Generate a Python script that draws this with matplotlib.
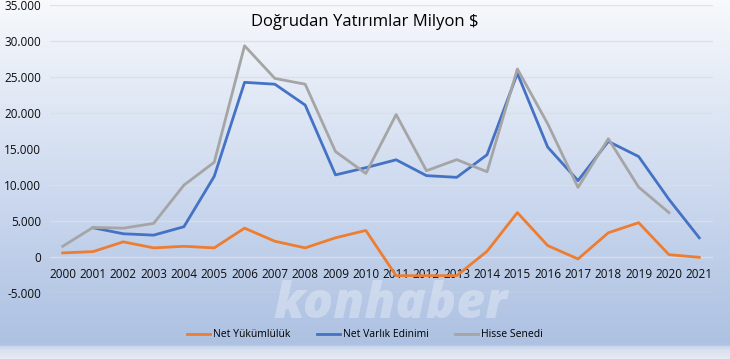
import numpy as np
import matplotlib.pyplot as plt
from matplotlib.ticker import FuncFormatter
from matplotlib.colors import LinearSegmentedColormap

years = list(range(2000, 2022))
net_yukumluluk = [560, 740, 2100, 1260, 1480, 1260, 4000, 2180, 1260, 2660, 3680,
                  -2600, -2600, -2600, 790, 6160, 1580, -280, 3360, 4760, 320, -50]
net_varlik = [None, 4060, 3220, 3030, 4200, 11200, 24260, 24000, 21100, 11400, 12400,
              13500, 11300, 11060, 14200, 25500, 15260, 10600, 16050, 13950, 8000, 2660]
hisse_senedi = [1480, 4100, 4000, 4660, 9980, 13160, 29340, 24800, 24000, 14640, 11600,
                19780, 11980, 13520, 11840, 26120, 18500, 9660, 16420, 9700, 6160, None]

plt.rcParams['font.family'] = ['Open Sans', 'DejaVu Sans']

fig = plt.figure(figsize=(7.3, 3.59), dpi=100)

# background gradient
bg = fig.add_axes([0, 0, 1, 1], zorder=-10)
cmap = LinearSegmentedColormap.from_list(
    'bg', [(0, '#f7f9fc'), (0.45, '#d3def1'), (0.96, '#adc1e2'), (0.975, '#d6e0f0'), (1, '#e4eaf4')])
grad = np.linspace(0, 1, 359).reshape(-1, 1)
bg.imshow(grad, aspect='auto', cmap=cmap, extent=[0, 1, 0, 1], origin='upper')
bg.axis('off')

ax = fig.add_axes([0.068, 0.184, 0.909, 0.802])
ax.patch.set_alpha(0)


def to_arr(v):
    return np.array([np.nan if x is None else x for x in v], dtype=float)


ax.plot(years, to_arr(net_yukumluluk), color='#ED7D31', lw=2, label='Net Yükümlülük', zorder=3)
ax.plot(years, to_arr(net_varlik), color='#4472C4', lw=2, label='Net Varlık Edinimi', zorder=3)
ax.plot(years, to_arr(hisse_senedi), color='#A5A5A5', lw=2, label='Hisse Senedi', zorder=3)

ax.set_ylim(-5000, 35000)
ax.set_xlim(1999.57, 2021.46)
ax.set_yticks(range(-5000, 35001, 5000))
ax.yaxis.set_major_formatter(FuncFormatter(lambda v, p: f"{int(v):,}".replace(',', '.')))
ax.set_xticks(years)
ax.grid(axis='y', color='#dcdfe5', lw=1, alpha=0.9)
for s in ax.spines.values():
    s.set_visible(False)
ax.spines['bottom'].set_position(('data', 0))
ax.tick_params(axis='both', length=0, labelsize=8.5, colors='#0d0d0d')
ax.tick_params(axis='y', pad=6)
ax.tick_params(axis='x', pad=8)
for lab in ax.get_yticklabels():
    lab.set_horizontalalignment('right')

fig.text(0.5, 0.94, 'Doğrudan Yatırımlar Milyon $', ha='center', va='center', fontsize=12, color='black')

fig.text(0.535, 0.15, 'konhaber', ha='center', va='center', fontsize=36, color='white',
         alpha=0.3, fontweight='heavy', fontstyle='italic')

fig.legend(loc='center', bbox_to_anchor=(0.5, 0.067), ncol=3, frameon=False, fontsize=7.5,
           handlelength=2.2, columnspacing=2.5, handletextpad=0.3)

fig.savefig('out.png', dpi=100)
